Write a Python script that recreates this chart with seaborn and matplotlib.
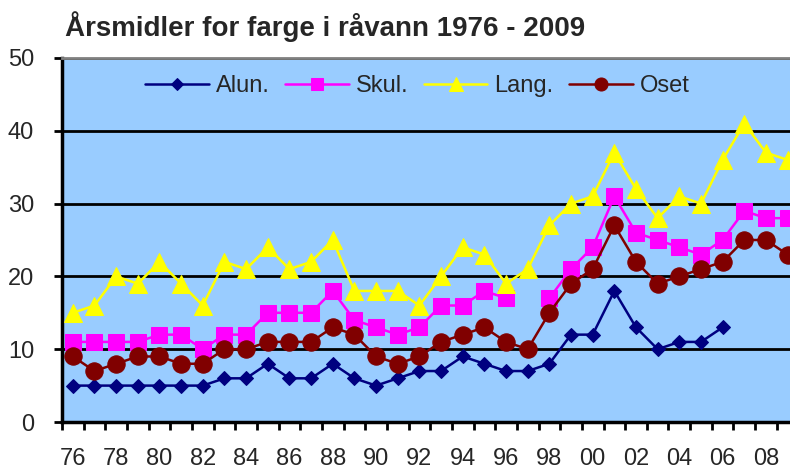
import numpy as np
import pandas as pd
import matplotlib
matplotlib.use("Agg")
import matplotlib.pyplot as plt
from matplotlib.ticker import FixedLocator, FixedFormatter
import seaborn as sns

years = list(range(1976, 2010))
alun = [5, 5, 5, 5, 5, 5, 5, 6, 6, 8, 6, 6, 8, 6, 5, 6, 7, 7, 9, 8, 7, 7, 8, 12, 12, 18, 13, 10, 11, 11, 13,
        np.nan, np.nan, np.nan]
skul = [11, 11, 11, 11, 12, 12, 10, 12, 12, 15, 15, 15, 18, 14, 13, 12, 13, 16, 16, 18, 17, np.nan, 17, 21, 24,
        31, 26, 25, 24, 23, 25, 29, 28, 28]
lang = [15, 16, 20, 19, 22, 19, 16, 22, 21, 24, 21, 22, 25, 18, 18, 18, 16, 20, 24, 23, 19, 21, 27, 30, 31,
        37, 32, 28, 31, 30, 36, 41, 37, 36]
oset = [9, 7, 8, 9, 9, 8, 8, 10, 10, 11, 11, 11, 13, 12, 9, 8, 9, 11, 12, 13, 11, 10, 15, 19, 21,
        27, 22, 19, 20, 21, 22, 25, 25, 23]

series = [("Alun.", alun, "#000080", "D", 7.5),
          ("Skul.", skul, "#FF00FF", "s", 12),
          ("Lang.", lang, "#FFFF00", "^", 13),
          ("Oset", oset, "#800000", "o", 12.5)]

sns.set_style("white")
plt.rcParams['font.family'] = ['Liberation Sans', 'DejaVu Sans']

fig = plt.figure(figsize=(7.9, 4.73), dpi=100)
ax = fig.add_axes([62/790, 1-422/473, 1-62/790, (422-58)/473])
ax.set_facecolor("#99CCFF")

for name, vals, col, mk, ms in series:
    df = pd.DataFrame({"year": years, "val": vals})
    # gaps in the data split the line into separate pieces
    df["seg"] = df["val"].isna().cumsum()
    df = df.dropna()
    sns.lineplot(data=df, x="year", y="val", units="seg", estimator=None, ax=ax, color=col,
                 marker=mk, markersize=ms, markeredgecolor=col, linewidth=1.8, label=name,
                 sort=False, zorder=3)

ax.set_xlim(1975.5, 1975.5 + (790-62)/21.66)
ax.set_ylim(0, 50)
ax.set_yticks([0, 10, 20, 30, 40, 50])
ax.yaxis.grid(True, color="black", linewidth=2)
ax.set_axisbelow(True)

major = years[::2]
ax.xaxis.set_major_locator(FixedLocator(major))
ax.xaxis.set_major_formatter(FixedFormatter([str(y)[2:] for y in major]))
ax.xaxis.set_minor_locator(FixedLocator([y - 0.5 for y in years] + [2009.5]))
ax.tick_params(axis="x", which="major", length=0, pad=19, labelsize=17)
ax.tick_params(axis="x", which="minor", length=6, width=2, color="black", direction="out", bottom=True)
ax.tick_params(axis="y", length=6, width=2, color="black", direction="out", left=True, labelsize=17, pad=14)
ax.set_xlabel("")
ax.set_ylabel("")

for s in ["left", "bottom"]:
    ax.spines[s].set_color("black")
    ax.spines[s].set_linewidth(2.5)
ax.spines["top"].set_color("#808080")
ax.spines["top"].set_linewidth(2)
ax.spines["right"].set_visible(False)

handles, labels = ax.get_legend_handles_labels()
uniq = dict(zip(labels, handles))
ax.legend(uniq.values(), uniq.keys(), ncol=4, loc="center", bbox_to_anchor=(0.488, (422-86)/364),
          frameon=False, fontsize=17, handlelength=2.7, handletextpad=0.3, columnspacing=0.65,
          markerscale=0.75)

fig.text(65/790, 1-36/473, "Årsmidler for farge i råvann 1976 - 2009", fontsize=20,
         fontweight="bold", ha="left", va="baseline")

fig.savefig("out.png", dpi=100)
